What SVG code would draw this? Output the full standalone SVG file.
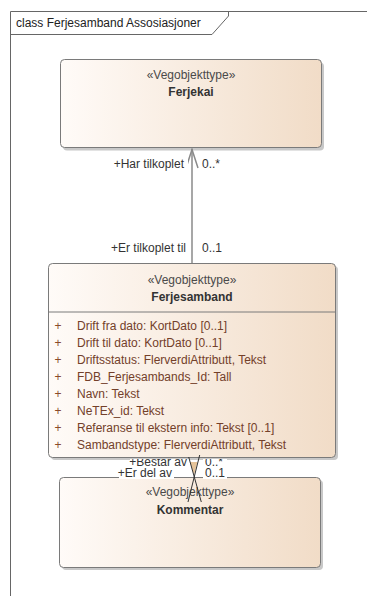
<svg xmlns="http://www.w3.org/2000/svg" width="367" height="596" viewBox="0 0 367 596">
<defs>
<linearGradient id="g" x1="0" y1="0" x2="1" y2="0">
<stop offset="0" stop-color="#fffbf8"/>
<stop offset="1" stop-color="#f1dcc7"/>
</linearGradient>
<clipPath id="cb"><rect x="100" y="459" width="140" height="9"/></clipPath>
</defs>
<style>
text{font-family:"Liberation Sans",Arial,sans-serif;font-size:12px}
.box{fill:url(#g);stroke:#7a7a7a;stroke-width:1}
.sh{fill:#c8c8c8}
.st{fill:#4a4a4a;text-anchor:middle}
.nm{fill:#333;font-weight:bold;text-anchor:middle}
.at{fill:#73402a}
.pl{fill:#8a4a2a;text-anchor:middle}
.lb{fill:#333}
.bg{fill:#fff}
.cn{stroke:#8a8a8a;stroke-width:1.5;fill:none}
.cx{stroke:#333;stroke-width:1;fill:none}
</style>
<rect width="367" height="596" fill="#fff"/>
<g id="frame">
<path d="M10.5,596 V11.5 H367" fill="none" stroke="#666" stroke-width="1"/>
<path d="M10.5,34.5 H212 L228.5,16 V11.5" fill="none" stroke="#666" stroke-width="1"/>
<text x="16" y="27" fill="#222" font-size="12.5">class Ferjesamband Assosiasjoner</text>
</g>
<g id="ferjekai">
<rect class="sh" x="63" y="62.5" width="261" height="88" rx="4"/>
<rect class="box" x="60.5" y="59.5" width="261" height="88" rx="4"/>
<text class="st" x="191" y="79">«Vegobjekttype»</text>
<text class="nm" x="191" y="96">Ferjekai</text>
</g>
<g id="ferjesamband">
<rect class="sh" x="51" y="266" width="287" height="194" rx="4"/>
<rect class="box" x="48.5" y="263.5" width="287" height="194" rx="4"/>
<text class="st" x="192" y="284">«Vegobjekttype»</text>
<text class="nm" x="192" y="301">Ferjesamband</text>
<line x1="48.5" y1="312" x2="335.5" y2="312" stroke="#7a7a7a"/>
<g>
<text class="pl" x="58" y="330">+</text><text class="at" x="77" y="330">Drift fra dato: KortDato [0..1]</text>
<text class="pl" x="58" y="347">+</text><text class="at" x="77" y="347">Drift til dato: KortDato [0..1]</text>
<text class="pl" x="58" y="364">+</text><text class="at" x="77" y="364">Driftsstatus: FlerverdiAttributt, Tekst</text>
<text class="pl" x="58" y="381">+</text><text class="at" x="77" y="381">FDB_Ferjesambands_Id: Tall</text>
<text class="pl" x="58" y="397.5">+</text><text class="at" x="77" y="397.5">Navn: Tekst</text>
<text class="pl" x="58" y="414.5">+</text><text class="at" x="77" y="414.5">NeTEx_id: Tekst</text>
<text class="pl" x="58" y="431.5">+</text><text class="at" x="77" y="431.5">Referanse til ekstern info: Tekst [0..1]</text>
<text class="pl" x="58" y="448.5">+</text><text class="at" x="77" y="448.5">Sambandstype: FlerverdiAttributt, Tekst</text>
</g>
</g>
<g id="kommentar">
<rect class="sh" x="62" y="480" width="261" height="90" rx="4"/>
<rect class="box" x="59.5" y="477.5" width="261" height="90" rx="4"/>
<text class="st" x="190" y="496">«Vegobjekttype»</text>
<text class="nm" x="190" y="514">Kommentar</text>
</g>
<g id="connectors">
<line class="cn" x1="192" y1="149" x2="192" y2="263"/>
<path class="cn" d="M186,168 L192,149.5 L198,168"/>
<rect class="bg" x="110" y="158" width="78" height="13"/>
<text class="lb" x="184" y="168" text-anchor="end">+Har tilkoplet</text>
<text class="lb" x="202" y="168">0..*</text>
<text class="lb" x="186" y="252" text-anchor="end">+Er tilkoplet til</text>
<text class="lb" x="202" y="252">0..1</text>
<rect class="bg" x="130" y="459" width="60" height="9"/>
<rect class="bg" x="203" y="459" width="24" height="9"/>
<g clip-path="url(#cb)">
<text class="lb" x="187" y="466" text-anchor="end">+Består av</text>
<text class="lb" x="205" y="466">0..*</text>
</g>
<rect class="bg" x="119" y="468" width="55" height="11"/>
<rect class="bg" x="203" y="468" width="24" height="11"/>
<text class="lb" x="172" y="477" text-anchor="end">+Er del av</text>
<text class="lb" x="205" y="477">0..1</text>
<polygon points="190,462 197.5,462 194,475" fill="#e6c49a"/>
<line class="cx" x1="199.7" y1="455" x2="188" y2="502"/>
<line class="cx" x1="188.7" y1="457" x2="201.3" y2="502"/>
</g>
</svg>
